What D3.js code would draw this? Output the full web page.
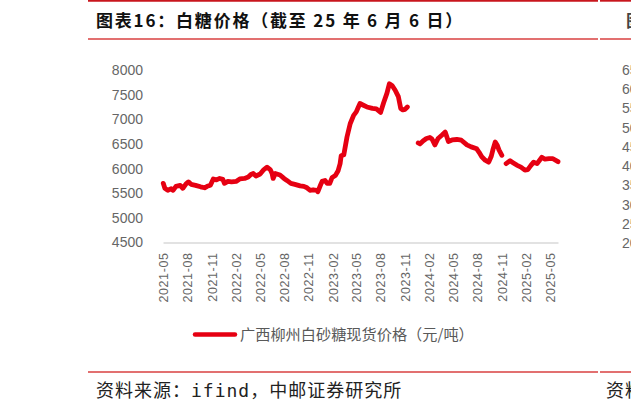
<!DOCTYPE html>
<html>
<head>
<meta charset="utf-8">
<script src="https://cdn.jsdelivr.net/npm/d3@7/dist/d3.min.js"></script>
<style>
  html, body { margin: 0; padding: 0; background: #fff; }
  svg { display: block; }
</style>
</head>
<body>
<svg id="chart" width="631" height="411"></svg>
<script>
// ---- data ----
const titleText = "图表16：白糖价格（截至 25 年 6 月 6 日）";
const seriesName = "广西柳州白砂糖现货价格（元/吨）";
const sourceText = ["资料来源：", "ifind", "，中邮证券研究所"];

const dates = [
  "2021-05-07","2021-05-13","2021-05-24","2021-06-06","2021-06-13","2021-06-24","2021-07-10","2021-07-20",
  "2021-08-01","2021-08-10","2021-08-20","2021-09-06","2021-09-25","2021-10-10","2021-10-20","2021-11-01",
  "2021-11-12","2021-11-24","2021-12-06","2021-12-18","2021-12-24","2022-01-06","2022-01-20","2022-02-06",
  "2022-02-20","2022-03-10","2022-03-24","2022-04-03","2022-04-12","2022-04-22","2022-05-08","2022-05-22",
  "2022-06-03","2022-06-15","2022-06-22","2022-06-26","2022-07-04","2022-07-22","2022-08-06","2022-08-17",
  "2022-09-01","2022-09-16","2022-10-06","2022-10-20","2022-11-01","2022-11-12","2022-11-24","2022-12-08",
  "2022-12-12","2022-12-20","2022-12-28","2023-01-08","2023-01-16","2023-01-26","2023-02-04","2023-02-16",
  "2023-02-26","2023-03-06","2023-03-10","2023-03-20","2023-04-01","2023-04-13","2023-04-26","2023-05-06",
  "2023-05-14","2023-05-20","2023-05-31","2023-06-15","2023-07-06","2023-07-21","2023-08-06","2023-08-17",
  "2023-08-30","2023-09-08","2023-09-19","2023-09-30","2023-10-12","2023-10-21","2023-10-29","2023-11-06",
  "2023-11-15","2023-12-05",
  "2023-12-26","2024-01-02","2024-01-13","2024-01-26","2024-02-08","2024-02-16","2024-02-27","2024-03-10",
  "2024-03-25","2024-04-06","2024-04-18","2024-05-02","2024-05-20","2024-06-06","2024-06-27","2024-07-13",
  "2024-08-03","2024-08-12","2024-08-22","2024-09-04","2024-09-17","2024-09-27","2024-10-04","2024-10-12",
  "2024-10-19","2024-10-26","2024-11-06","2024-11-14",
  "2024-11-22","2024-12-07","2024-12-18","2025-01-01","2025-01-17","2025-02-01","2025-02-12","2025-02-23",
  "2025-03-06","2025-03-19","2025-04-06","2025-04-18","2025-05-03","2025-05-18","2025-06-06"
];
const prices = [
  5700,5600,5560,5590,5560,5640,5660,5600,
  5690,5730,5680,5660,5630,5610,5640,5660,
  5790,5770,5800,5780,5700,5740,5730,5740,
  5790,5800,5830,5880,5900,5850,5890,5980,
  6030,5980,5900,5800,5900,5870,5800,5760,
  5700,5680,5650,5640,5610,5560,5570,5560,
  5530,5640,5740,5760,5700,5700,5820,5860,
  5950,6100,6260,6280,6640,6910,7080,7150,
  7250,7320,7290,7250,7220,7210,7140,7330,
  7530,7720,7680,7590,7460,7220,7190,7200,
  7250,null,
  6520,6500,6560,6610,6630,6600,6480,6610,
  6680,6740,6550,6580,6590,6575,6480,6440,
  6400,6330,6240,6170,6130,6250,6400,6540,
  6480,6380,6270,null,
  6100,6160,6120,6070,6030,5970,5980,6060,
  6130,6100,6230,6190,6200,6200,6140
];

const yTicks = [4500, 5000, 5500, 6000, 6500, 7000, 7500, 8000];
const xTickLabels = ["2021-05","2021-08","2021-11","2022-02","2022-05","2022-08","2022-11","2023-02",
  "2023-05","2023-08","2023-11","2024-02","2024-05","2024-08","2024-11","2025-02","2025-05"];
const xStart = "2021-05-06", xEnd = "2025-06-06";

// partially visible neighbouring chart (right edge)
const nextTicks = [2000, 2500, 3000, 3500, 4000, 4500, 5000, 5500, 6000, 6500];

// ---- drawing ----
const svg = d3.select("#chart");
const parse = d3.timeParse("%Y-%m-%d");
const data = dates.map((d, i) => ({ date: parse(d), value: prices[i] }));

const x = d3.scaleTime().domain([parse(xStart), parse(xEnd)]).range([163, 558]);
const y = d3.scaleLinear().domain([4500, 8000]).range([242.5, 70]);

const RED_DARK = "#c8161d", RED_LIGHT = "#e27070";

// header rules
[[0.8, RED_DARK, 1.8], [39, RED_LIGHT, 2], [372, RED_LIGHT, 2]].forEach(([yy, c, w]) => {
  svg.append("line").attr("x1", 88).attr("x2", 598).attr("y1", yy).attr("y2", yy)
    .attr("stroke", c).attr("stroke-width", w);
  svg.append("line").attr("x1", 600).attr("x2", 631).attr("y1", yy).attr("y2", yy)
    .attr("stroke", c).attr("stroke-width", w);
});

// title
svg.append("text").attr("x", 96).attr("y", 21).attr("dy", "0.36em")
  .attr("font-family", "'Noto Sans CJK SC', sans-serif").attr("font-weight", 700)
  .attr("font-size", 17).attr("letter-spacing", 1.8).attr("fill", "#111").text(titleText);
svg.append("text").attr("x", 626).attr("y", 21).attr("dy", "0.36em")
  .attr("font-family", "'Noto Sans CJK SC', sans-serif").attr("font-weight", 700)
  .attr("font-size", 17).attr("fill", "#444").text("图表17");

// y axis labels
const yAxis = d3.axisLeft(y).tickValues(yTicks).tickFormat(d3.format("d")).tickSize(0).tickPadding(0);
const gy = svg.append("g").attr("transform", "translate(143,0)").call(yAxis);
gy.select(".domain").remove();
gy.selectAll("text").attr("font-family", "'Liberation Sans', Arial, sans-serif")
  .attr("font-size", 14).attr("fill", "#666");

// x axis
const xAxis = d3.axisBottom(x)
  .tickValues(xTickLabels.map(l => parse(l + "-06")))
  .tickFormat(d3.timeFormat("%Y-%m")).tickSize(0).tickPadding(0);
const gx = svg.append("g").attr("transform", "translate(0,242.5)").call(xAxis);
gx.select(".domain").attr("stroke", "#d9d9d9").attr("stroke-width", 1.5);
gx.selectAll("text")
  .attr("font-family", "'Liberation Sans', Arial, sans-serif")
  .attr("font-size", 12.5).attr("fill", "#666")
  .attr("letter-spacing", 0.6)
  .attr("text-anchor", "end")
  .attr("transform", "translate(0,10) rotate(-90)")
  .attr("x", 0).attr("y", 0).attr("dy", "0.35em");

// line
const line = d3.line().defined(d => d.value != null)
  .x(d => x(d.date)).y(d => y(d.value)).curve(d3.curveLinear);
svg.append("path").datum(data).attr("d", line)
  .attr("fill", "none").attr("stroke", "#e60012").attr("stroke-width", 4.8)
  .attr("stroke-linejoin", "round").attr("stroke-linecap", "round");

// legend
const lg = svg.append("g").attr("transform", "translate(195,334.5)");
lg.append("line").attr("x1", 0).attr("x2", 40).attr("y1", 0).attr("y2", 0)
  .attr("stroke", "#e60012").attr("stroke-width", 4.5).attr("stroke-linecap", "round");
lg.append("text").attr("x", 45).attr("y", 0).attr("dy", "0.36em")
  .attr("font-family", "'Noto Sans CJK SC', sans-serif").attr("font-size", 15.2)
  .attr("fill", "#595959").text(seriesName);

// source
const src = svg.append("text").attr("x", 96).attr("y", 391).attr("dy", "0.36em")
  .attr("font-family", "'Noto Sans CJK SC', sans-serif").attr("font-size", 18)
  .attr("letter-spacing", 1).attr("fill", "#222");
src.append("tspan").text(sourceText[0]);
src.append("tspan").attr("font-family", "'DejaVu Sans Mono', monospace").attr("font-size", 18).text(sourceText[1]);
src.append("tspan").text(sourceText[2]);
svg.append("text").attr("x", 606).attr("y", 391).attr("dy", "0.36em")
  .attr("font-family", "'Noto Sans CJK SC', sans-serif").attr("font-size", 18)
  .attr("letter-spacing", 1).attr("fill", "#222").text("资料来源");

// neighbouring chart's axis labels (cut off at the right edge)
const y2 = d3.scaleLinear().domain([2000, 6500]).range([243, 70]);
svg.append("g").selectAll("text").data(nextTicks).join("text")
  .attr("x", 622).attr("y", d => y2(d)).attr("dy", "0.36em")
  .attr("font-family", "'Liberation Sans', Arial, sans-serif").attr("font-size", 14)
  .attr("fill", "#666").text(d => d);
</script>
</body>
</html>
